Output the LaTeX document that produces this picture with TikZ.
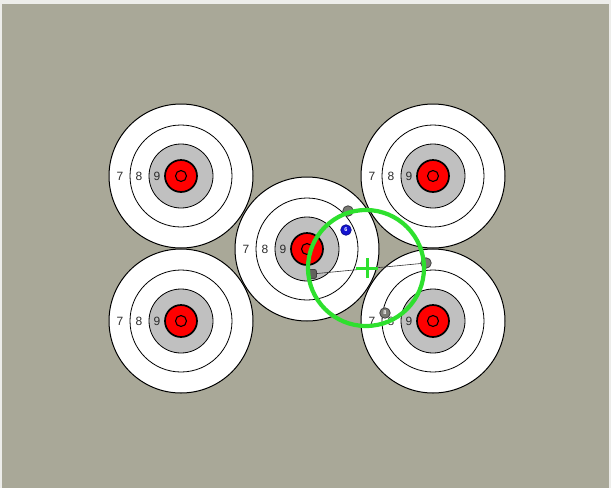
\documentclass[tikz,border=0pt]{standalone}
\usepackage{fontspec}
\setmainfont{Liberation Sans}
\definecolor{bg}{HTML}{A9A898}
\definecolor{edge}{HTML}{EDEDEA}
\definecolor{ringgray}{HTML}{C0C0C0}
\definecolor{tred}{HTML}{FF0000}
\definecolor{lblc}{HTML}{2C2C2C}
\definecolor{aim}{HTML}{2EE02E}
\definecolor{shotc}{HTML}{7A7A74}
\definecolor{shotblue}{HTML}{1414D2}
\tikzset{
  lbl/.style={text=lblc, font=\fontsize{12}{12}\selectfont, inner sep=0pt},
  shotstyle/.style={circle, draw=black!75, fill=shotc, line width=0.8pt, minimum size=10.5pt, inner sep=0pt, text=white, font=\fontsize{5.5}{5.5}\selectfont\bfseries},
  shotblue/.style={shotstyle, fill=shotblue, draw=shotblue!70!black},
  shotsq/.style={rectangle, rounded corners=2pt, draw=black!75, fill=shotc!80!black, line width=0.8pt, minimum size=9pt, inner sep=0pt},
  aimline/.style={draw=aim, line width=4.2pt},
  target/.pic={
    \fill[white] (0,0) circle (72pt);
    \draw[line width=1pt] (0,0) circle (72pt);
    \draw[line width=0.8pt] (0,0) circle (51pt);
    \filldraw[fill=ringgray, line width=0.8pt] (0,0) circle (32pt);
    \filldraw[fill=tred, line width=1.7pt] (0,0) circle (16pt);
    \draw[line width=1.1pt] (0,0) circle (5.5pt);
    \node[lbl] (-n7) at (-61,0) {7};
    \node[lbl] (-n8) at (-42,0) {8};
    \node[lbl] (-n9) at (-24,0) {9};
  }
}
\begin{document}
\begin{tikzpicture}[x=1pt,y=-1pt]
\useasboundingbox (0,0) rectangle (611,488);
\fill[bg] (0,0) rectangle (611,488);
\fill[edge] (0,0) rectangle (611,4);
\fill[edge] (0,0) rectangle (2,488);
\fill[edge] (609,0) rectangle (611,488);
% targets
\pic (tl) at (181,176) {target};
\pic (tr) at (433,176) {target};
\pic (bl) at (181,321) {target};
\pic (br) at (433,321) {target};
\pic (mid) at (307,249) {target};
% shots
\coordinate (p3) at (312,274);
\coordinate (p4) at (426,263);
\draw[line width=0.6pt, black!80] (p3) -- (p4);
\node[shotstyle] (s1) at (348,211) {};
\node[shotblue] (s2) at (346,230) {6};
\node[shotsq] (s3) at (p3) {};
\node[shotstyle] (s4) at (p4) {};
\node[shotstyle] (s5) at (385,313) {8};
% aim
\coordinate (ac) at (366,268);
\draw[aimline] (ac) circle (58pt);
\coordinate (pc) at (367,268);
\draw[draw=aim, line width=3pt] ([xshift=-11pt]pc) -- ([xshift=11pt]pc);
\draw[draw=aim, line width=3pt] ([yshift=-10pt]pc) -- ([yshift=10pt]pc);
\end{tikzpicture}
\end{document}
